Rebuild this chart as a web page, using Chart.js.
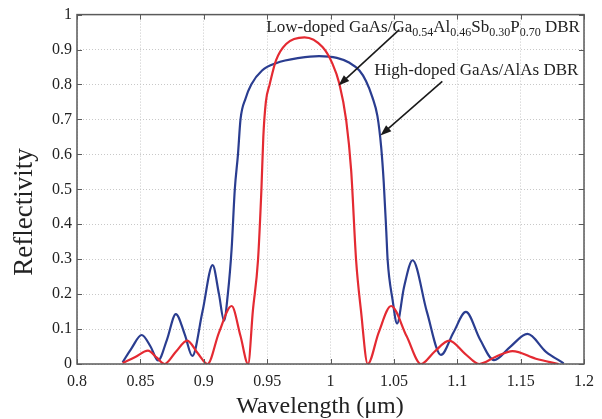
<!DOCTYPE html>
<html>
<head>
<meta charset="utf-8">
<script src="https://cdn.jsdelivr.net/npm/chart.js@4"></script>
<style>
  html, body { margin: 0; padding: 0; background: #fff; }
  #wrap { width: 602px; height: 419px; }
</style>
</head>
<body>
<div id="wrap"><canvas id="refl-chart" width="602" height="419"></canvas></div>
<script>
// High-doped GaAs/AlAs DBR (blue)
var highWl = [0.836, 0.843, 0.851, 0.858, 0.864, 0.871, 0.878, 0.885, 0.891, 0.899, 0.907, 0.912, 0.916, 0.919, 0.922, 0.9245, 0.927, 0.929, 0.933, 0.9375, 0.946, 0.957, 0.9756, 0.991, 1.005, 1.015, 1.0228, 1.028, 1.033, 1.037, 1.040, 1.042, 1.044, 1.0451, 1.049, 1.0525, 1.058, 1.0648, 1.076, 1.0871, 1.097, 1.1068, 1.118, 1.129, 1.142, 1.1554, 1.170, 1.184];
var highR  = [0.005, 0.045, 0.083, 0.050, 0.010, 0.070, 0.143, 0.085, 0.023, 0.150, 0.283, 0.200, 0.124, 0.200, 0.330, 0.500, 0.600, 0.700, 0.760, 0.800, 0.840, 0.861, 0.876, 0.881, 0.876, 0.862, 0.840, 0.810, 0.764, 0.710, 0.620, 0.520, 0.380, 0.297, 0.183, 0.116, 0.220, 0.297, 0.150, 0.026, 0.090, 0.149, 0.070, 0.011, 0.050, 0.086, 0.035, 0.002];

// Low-doped GaAs/GaAlSbP DBR (red)
var lowWl = [0.836, 0.846, 0.856, 0.863, 0.869, 0.878, 0.887, 0.895, 0.903, 0.912, 0.922, 0.929, 0.935, 0.9388, 0.9428, 0.9455, 0.947, 0.949, 0.952, 0.957, 0.965, 0.9795, 0.9937, 1.0016, 1.007, 1.0124, 1.0163, 1.0202, 1.024, 1.0294, 1.038, 1.0478, 1.060, 1.0714, 1.082, 1.0937, 1.106, 1.1173, 1.130, 1.1436, 1.162, 1.180];
var lowR  = [0.003, 0.020, 0.038, 0.018, 0.000, 0.035, 0.067, 0.032, 0.000, 0.090, 0.166, 0.080, 0.000, 0.154, 0.297, 0.500, 0.650, 0.750, 0.800, 0.869, 0.916, 0.935, 0.907, 0.859, 0.802, 0.697, 0.554, 0.297, 0.154, 0.000, 0.090, 0.166, 0.080, 0.000, 0.035, 0.067, 0.030, 0.000, 0.020, 0.037, 0.015, 0.000];

var xTicks = [0.8, 0.85, 0.9, 0.95, 1, 1.05, 1.1, 1.15, 1.2];
var yTicks = [0, 0.1, 0.2, 0.3, 0.4, 0.5, 0.6, 0.7, 0.8, 0.9, 1];

var xTitle = 'Wavelength (\u03bcm)';
var yTitle = 'Reflectivity';

// annotation: text pieces [text, isSubscript], anchor and arrow in data units
var lowLabel = [['Low-doped GaAs/Ga', false], ['0.54', true], ['Al', false], ['0.46', true], ['Sb', false], ['0.30', true], ['P', false], ['0.70', true], [' DBR', false]];
var highLabel = [['High-doped GaAs/AlAs DBR', false]];
var lowLabelAt = [0.9494, 0.949];
var highLabelAt = [1.0346, 0.826];
var lowArrow = [[1.0543, 0.957], [1.0063, 0.797]];
var highArrow = [[1.0882, 0.809], [1.0394, 0.654]];

var SERIF = '"Liberation Serif", "Times New Roman", serif';
var BLUE = '#2a3d90';
var RED = '#e42a32';

function toPoints(xs, ys) {
	var pts = [];
	for (var i = 0; i < xs.length; i++) {
		pts.push({x: xs[i], y: ys[i]});
	}
	return pts;
}

function drawRich(ctx, pieces, x, y) {
	for (var i = 0; i < pieces.length; i++) {
		var sub = pieces[i][1];
		ctx.font = (sub ? '12px ' : '17px ') + SERIF;
		ctx.fillText(pieces[i][0], x, sub ? y + 4 : y);
		x += ctx.measureText(pieces[i][0]).width;
	}
}

function drawArrow(ctx, x1, y1, x2, y2) {
	var ang = Math.atan2(y2 - y1, x2 - x1);
	var len = 11, wid = 4;
	ctx.beginPath();
	ctx.moveTo(x1, y1);
	ctx.lineTo(x2 - Math.cos(ang) * len * 0.8, y2 - Math.sin(ang) * len * 0.8);
	ctx.stroke();
	ctx.beginPath();
	ctx.moveTo(x2, y2);
	ctx.lineTo(x2 - Math.cos(ang) * len + Math.sin(ang) * wid, y2 - Math.sin(ang) * len - Math.cos(ang) * wid);
	ctx.lineTo(x2 - Math.cos(ang) * len - Math.sin(ang) * wid, y2 - Math.sin(ang) * len + Math.cos(ang) * wid);
	ctx.closePath();
	ctx.fill();
}

// box, inside ticks, axis titles and the two arrow labels
var frame = {
	id: 'frame',
	afterDraw: function(chart) {
		var ctx = chart.ctx, a = chart.chartArea;
		var xs = chart.scales.x, ys = chart.scales.y;
		ctx.save();
		ctx.strokeStyle = '#5a5a5a';
		ctx.lineWidth = 1.5;
		ctx.strokeRect(a.left, a.top, a.right - a.left, a.bottom - a.top);
		ctx.lineWidth = 1;
		ctx.beginPath();
		xTicks.forEach(function(v) {
			var px = Math.round(xs.getPixelForValue(v)) + 0.5;
			ctx.moveTo(px, a.bottom); ctx.lineTo(px, a.bottom - 5);
			ctx.moveTo(px, a.top); ctx.lineTo(px, a.top + 5);
		});
		yTicks.forEach(function(v) {
			var py = Math.round(ys.getPixelForValue(v)) + 0.5;
			ctx.moveTo(a.left, py); ctx.lineTo(a.left + 5, py);
			ctx.moveTo(a.right, py); ctx.lineTo(a.right - 5, py);
		});
		ctx.stroke();

		ctx.fillStyle = '#222';
		ctx.font = '24px ' + SERIF;
		ctx.textAlign = 'center';
		ctx.textBaseline = 'alphabetic';
		ctx.fillText(xTitle, 320, 412.5);
		ctx.save();
		ctx.translate(32, 212);
		ctx.rotate(-Math.PI / 2);
		ctx.font = '27px ' + SERIF;
		ctx.fillText(yTitle, 0, 0);
		ctx.restore();

		ctx.textAlign = 'left';
		drawRich(ctx, lowLabel, xs.getPixelForValue(lowLabelAt[0]), ys.getPixelForValue(lowLabelAt[1]));
		drawRich(ctx, highLabel, xs.getPixelForValue(highLabelAt[0]), ys.getPixelForValue(highLabelAt[1]));

		ctx.strokeStyle = '#1a1a1a';
		ctx.fillStyle = '#1a1a1a';
		ctx.lineWidth = 1.6;
		[lowArrow, highArrow].forEach(function(ar) {
			drawArrow(ctx,
				xs.getPixelForValue(ar[0][0]), ys.getPixelForValue(ar[0][1]),
				xs.getPixelForValue(ar[1][0]), ys.getPixelForValue(ar[1][1]));
		});
		ctx.restore();
	}
};

var ctx = document.getElementById('refl-chart').getContext('2d');

var chart = new Chart(ctx, {
	type: 'line',
	data: {
		datasets: [{
			label: 'Low-doped GaAs/Ga0.54Al0.46Sb0.30P0.70 DBR',
			data: toPoints(lowWl, lowR),
			borderColor: RED,
			borderWidth: 2.2,
			pointRadius: 0,
			fill: false,
			cubicInterpolationMode: 'monotone'
		}, {
			label: 'High-doped GaAs/AlAs DBR',
			data: toPoints(highWl, highR),
			borderColor: BLUE,
			borderWidth: 2.2,
			pointRadius: 0,
			fill: false,
			cubicInterpolationMode: 'monotone'
		}]
	},
	options: {
		responsive: false,
		animation: false,
		devicePixelRatio: 1,
		layout: { padding: { left: 0, top: 14, right: 17, bottom: 0 } },
		plugins: {
			legend: { display: false },
			tooltip: { enabled: false }
		},
		scales: {
			x: {
				type: 'linear',
				min: 0.8,
				max: 1.2,
				afterFit: function(scale) { scale.height = 55; },
				afterBuildTicks: function(scale) {
					scale.ticks = xTicks.map(function(v) { return {value: v}; });
				},
				ticks: {
					padding: 8,
					color: '#222',
					font: { family: SERIF, size: 16 },
					maxRotation: 0,
					callback: function(v) { return String(+v.toFixed(2)); }
				},
				grid: { color: '#c8c8c8', lineWidth: 1, drawTicks: false },
				border: { display: false, dash: [1, 2] }
			},
			y: {
				type: 'linear',
				min: 0,
				max: 1,
				afterFit: function(scale) { scale.width = 77; },
				afterBuildTicks: function(scale) {
					scale.ticks = yTicks.map(function(v) { return {value: v}; });
				},
				ticks: {
					padding: 5,
					color: '#222',
					font: { family: SERIF, size: 16 },
					callback: function(v) { return String(+v.toFixed(1)); }
				},
				grid: { color: '#c8c8c8', lineWidth: 1, drawTicks: false },
				border: { display: false, dash: [1, 2] }
			}
		}
	},
	plugins: [frame]
});
</script>
</body>
</html>
